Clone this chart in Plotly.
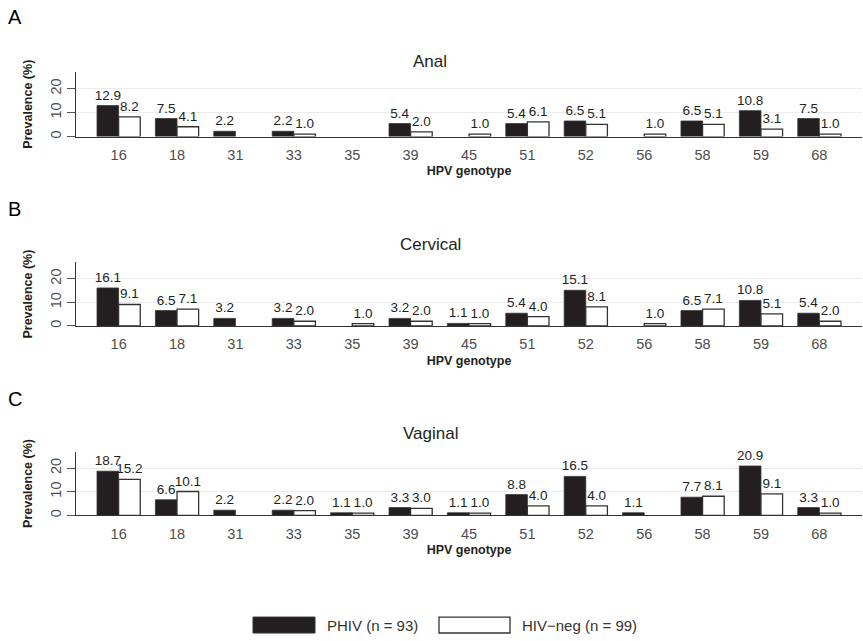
import plotly.graph_objects as go

# HPV genotypes on the x axis
genotypes = ["16", "18", "31", "33", "35", "39", "45", "51", "52", "56", "58", "59", "68"]

# Prevalence (%) by anatomical site; 0 means not detected
anal_phiv = [12.9, 7.5, 2.2, 2.2, 0, 5.4, 0, 5.4, 6.5, 0, 6.5, 10.8, 7.5]
anal_neg = [8.2, 4.1, 0, 1.0, 0, 2.0, 1.0, 6.1, 5.1, 1.0, 5.1, 3.1, 1.0]

cervical_phiv = [16.1, 6.5, 3.2, 3.2, 0, 3.2, 1.1, 5.4, 15.1, 0, 6.5, 10.8, 5.4]
cervical_neg = [9.1, 7.1, 0, 2.0, 1.0, 2.0, 1.0, 4.0, 8.1, 1.0, 7.1, 5.1, 2.0]

vaginal_phiv = [18.7, 6.6, 2.2, 2.2, 1.1, 3.3, 1.1, 8.8, 16.5, 1.1, 7.7, 20.9, 3.3]
vaginal_neg = [15.2, 10.1, 0, 2.0, 1.0, 3.0, 1.0, 4.0, 4.0, 0, 8.1, 9.1, 1.0]

y_ticks = [0, 10, 20]
group_names = ["PHIV (n = 93)", "HIV\u2212neg (n = 99)"]

panels = [
    ("A", "Anal", anal_phiv, anal_neg),
    ("B", "Cervical", cervical_phiv, cervical_neg),
    ("C", "Vaginal", vaginal_phiv, vaginal_neg),
]

W, H = 863, 641
FONT = "Liberation Sans"
DARK = "#231F20"
EDGE = "#333333"


def fy(px):
    return 1 - px / H


def fx(px):
    return px / W


# pixel extents of each panel's plotting area (top, bottom)
panel_rows = [(72, 137), (263, 327), (453, 517)]
x_left, x_right = 76, 862

fig = go.Figure()
annotations = []
shapes = []


def bar_vals(v):
    return [x if x > 0 else None for x in v]


def bar_text(v):
    return [f"{x:.1f}" if x > 0 else "" for x in v]


for i, (letter, title, phiv, neg) in enumerate(panels):
    n = "" if i == 0 else str(i + 1)
    xa, ya = "x" + n, "y" + n
    top, bottom = panel_rows[i]
    for vals, fill, lw in ((phiv, DARK, 0.8), (neg, "white", 1.3)):
        fig.add_trace(go.Bar(
            x=genotypes, y=bar_vals(vals), xaxis=xa, yaxis=ya,
            marker=dict(color=fill, line=dict(color=EDGE, width=lw)),
            text=bar_text(vals), textposition="outside",
            textfont=dict(family=FONT, size=13.5, color=DARK),
            constraintext="none", cliponaxis=False, showlegend=False,
            hoverinfo="skip",
        ))
    fig.layout["xaxis" + n] = dict(
        domain=[fx(x_left), fx(x_right)], anchor=ya,
        type="category", categoryorder="array", categoryarray=genotypes,
        range=[-0.73, 12.73], showgrid=False, showline=True,
        linecolor=EDGE, linewidth=1.2, zeroline=False,
        ticks="outside", ticklen=5, tickcolor="rgba(0,0,0,0)",
        tickfont=dict(family=FONT, size=14.5, color="#4D4D4D"),
        title=dict(text="<b>HPV genotype</b>", standoff=4,
                   font=dict(family=FONT, size=12.5, color=DARK)),
        fixedrange=True,
    )
    fig.layout["yaxis" + n] = dict(
        domain=[fy(bottom), fy(top)], anchor=xa,
        range=[0, 27], tickvals=y_ticks, ticktext=[str(t) for t in y_ticks],
        tickangle=-90, ticks="outside", ticklen=8, tickcolor="#555555",
        tickwidth=1, showgrid=True, gridcolor="#EBEBEB", gridwidth=1.2,
        showline=True, linecolor=EDGE, linewidth=1.2, zeroline=False,
        tickfont=dict(family=FONT, size=14.5, color="#4D4D4D"),
        title=dict(text="<b>Prevalence (%)</b>", standoff=12,
                   font=dict(family=FONT, size=12.5, color=DARK)),
        fixedrange=True,
    )
    # panel letter and site title
    annotations.append(dict(
        text=letter, x=fx(6), y=fy([17, 210, 400][i]), xref="paper", yref="paper",
        xanchor="left", yanchor="middle", showarrow=False,
        font=dict(family=FONT, size=20, color="black"),
    ))
    annotations.append(dict(
        text=title, x=fx(430), y=fy([62, 245, 435][i]), xref="paper", yref="paper",
        xanchor="center", yanchor="middle", showarrow=False,
        font=dict(family=FONT, size=17, color=DARK),
    ))

# legend drawn as swatches with labels underneath the panels
legend_items = [(253, 315, DARK, 1.0), (439, 510, "white", 1.3)]
for (x0, x1, fill, lw), name in zip(legend_items, group_names):
    shapes.append(dict(
        type="rect", xref="paper", yref="paper",
        x0=fx(x0), x1=fx(x1), y0=fy(635), y1=fy(619),
        fillcolor=fill, line=dict(color=EDGE, width=lw),
    ))
    annotations.append(dict(
        text=name, x=fx(x1 + 10), y=fy(627), xref="paper", yref="paper",
        xanchor="left", yanchor="middle", showarrow=False,
        font=dict(family=FONT, size=15, color="#333333"),
    ))

fig.update_layout(
    width=W, height=H, margin=dict(l=0, r=0, t=0, b=0),
    paper_bgcolor="white", plot_bgcolor="white",
    barmode="group", bargap=0.26, bargroupgap=0,
    annotations=annotations, shapes=shapes, showlegend=False,
)

fig.write_html("out.html")
